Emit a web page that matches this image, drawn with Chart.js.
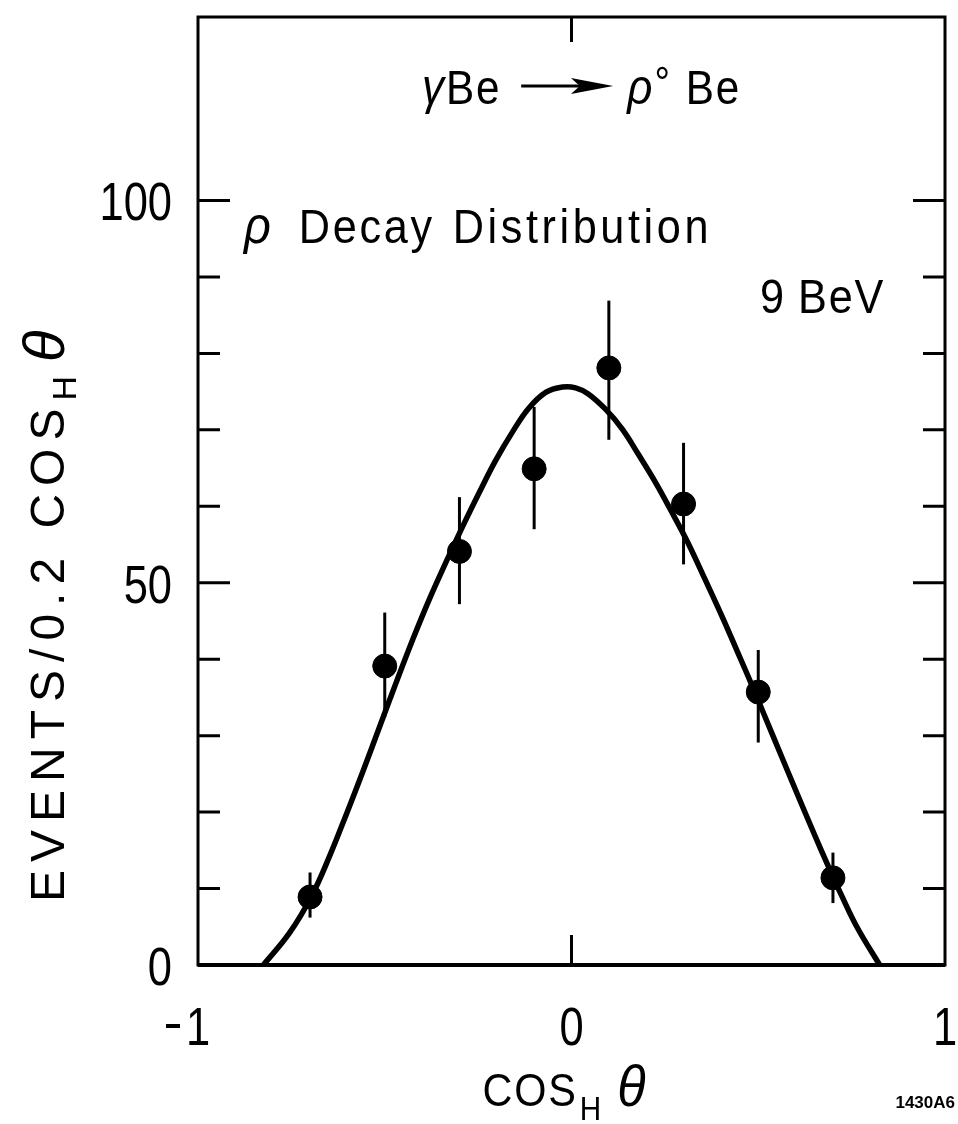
<!DOCTYPE html>
<html>
<head>
<meta charset="utf-8">
<script src="https://cdn.jsdelivr.net/npm/chart.js@4.4.1/dist/chart.umd.min.js"></script>
<style>
  html, body { margin: 0; padding: 0; background: #fff; }
</style>
</head>
<body>
<canvas id="decayChart" width="958" height="1124"></canvas>
<script>
// rho decay distribution, gamma Be -> rho Be at 9 BeV
const binCenters = [-0.7, -0.5, -0.3, -0.1, 0.1, 0.3, 0.5, 0.7];
const events     = [8.9, 39.1, 54.1, 64.9, 78.1, 60.3, 35.7, 11.4];
const errLow     = [6.2, 32.4, 47.2, 57.0, 68.7, 52.4, 29.1, 8.1];
const errHigh    = [12.1, 46.1, 61.2, 73.0, 86.9, 68.3, 41.2, 14.7];

// fitted curve
const fitX = [-0.825, -0.755, -0.696, -0.648, -0.603, -0.557, -0.515, -0.469, -0.424, -0.381,
              -0.336, -0.291, -0.248, -0.203, -0.157, -0.115, -0.069, -0.024, 0.011, 0.045,
              0.091, 0.136, 0.179, 0.224, 0.269, 0.312, 0.357, 0.403, 0.445, 0.483,
              0.517, 0.563, 0.605, 0.651, 0.685, 0.723, 0.765, 0.825];
const fitY = [0, 4.2, 9.0, 14.2, 19.7, 25.5, 31.0, 37.0, 42.7, 47.8,
              52.7, 57.4, 61.7, 66.0, 69.8, 72.8, 74.9, 75.6, 75.5, 74.7,
              72.7, 70.1, 66.8, 63.2, 59.2, 55.2, 50.5, 45.6, 40.9, 36.6,
              32.6, 27.2, 22.3, 17.0, 13.2, 9.1, 4.9, 0];

const yMajorTicks = [0, 50, 100];
const yTickLabels = ['0', '50', '100'];
const xTickLabels = ['-1', '0', '1'];

const FONT = "'Liberation Sans', Arial, sans-serif";

// draw a row of text pieces (subscripts, greek, arrow) left to right, squeezed by sx
function drawRuns(ctx, x, y, runs, align, sx) {
    sx = sx || 1;
    let total = 0;
    runs.forEach(r => {
        ctx.font = r.font || '';
        ctx.letterSpacing = r.spacing || '0px';
        r.w = r.arrow ? r.arrow / sx : (r.text ? ctx.measureText(r.text).width : 0);
        total += r.w + (r.gap || 0) / sx;
    });
    ctx.save();
    ctx.translate(align === 'center' ? x - total * sx / 2 : x, y);
    ctx.scale(sx, 1);
    let cx = 0;
    runs.forEach(r => {
        if (r.arrow) {
            const L = r.w, dy = r.dy;
            ctx.lineWidth = 3;
            ctx.beginPath();
            ctx.moveTo(cx, dy);
            ctx.lineTo(cx + L - 30, dy);
            ctx.stroke();
            ctx.beginPath();
            ctx.moveTo(cx + L, dy);
            ctx.lineTo(cx + L - 48, dy - 8);
            ctx.lineTo(cx + L - 38, dy);
            ctx.lineTo(cx + L - 48, dy + 8);
            ctx.closePath();
            ctx.fill();
        } else if (r.text) {
            ctx.font = r.font;
            ctx.letterSpacing = r.spacing || '0px';
            ctx.fillText(r.text, cx, r.dy || 0);
        }
        cx += r.w + (r.gap || 0) / sx;
    });
    ctx.restore();
    ctx.letterSpacing = '0px';
}

const framePlugin = {
    id: 'frame',
    beforeDatasetsDraw(chart) {
        const ctx = chart.ctx;
        const a = chart.chartArea;
        const xs = chart.scales.x, ys = chart.scales.y;
        ctx.save();
        ctx.strokeStyle = '#000';
        ctx.fillStyle = '#000';
        ctx.lineWidth = 3;
        ctx.strokeRect(a.left, a.top, a.right - a.left, a.bottom - a.top);
        ctx.lineWidth = 4;
        ctx.beginPath();
        ctx.moveTo(a.left, a.bottom);
        ctx.lineTo(a.right, a.bottom);
        ctx.stroke();

        // inward y ticks on both sides
        ctx.lineWidth = 3;
        ys.ticks.forEach(t => {
            if (t.value > 100 || t.value % 10 !== 0) return;
            const py = ys.getPixelForValue(t.value);
            const len = yMajorTicks.includes(t.value) ? 32 : 22;
            ctx.beginPath();
            ctx.moveTo(a.left, py); ctx.lineTo(a.left + len, py);
            ctx.moveTo(a.right, py); ctx.lineTo(a.right - len, py);
            ctx.stroke();
        });
        // inward x ticks top and bottom
        xs.ticks.forEach(t => {
            if (Math.abs(t.value) === 1) return;
            const px = xs.getPixelForValue(t.value);
            ctx.beginPath();
            ctx.moveTo(px, a.bottom); ctx.lineTo(px, a.bottom - 30);
            ctx.moveTo(px, a.top); ctx.lineTo(px, a.top + 25);
            ctx.stroke();
        });

        // error bars
        ctx.lineWidth = 3;
        binCenters.forEach((bx, i) => {
            const px = xs.getPixelForValue(bx);
            ctx.beginPath();
            ctx.moveTo(px, ys.getPixelForValue(errLow[i]));
            ctx.lineTo(px, ys.getPixelForValue(errHigh[i]));
            ctx.stroke();
        });
        ctx.restore();
    },
    afterDraw(chart) {
        const ctx = chart.ctx;
        const a = chart.chartArea;
        const xs = chart.scales.x, ys = chart.scales.y;
        ctx.save();
        ctx.fillStyle = '#000';
        ctx.strokeStyle = '#000';
        const digitFont = '53px ' + FONT;

        // y tick labels, right aligned
        ctx.textBaseline = 'alphabetic';
        ctx.textAlign = 'left';
        yMajorTicks.forEach((v, i) => {
            ctx.font = digitFont;
            const w = ctx.measureText(yTickLabels[i]).width * 0.82;
            drawRuns(ctx, a.left - 26 - w, ys.getPixelForValue(v) + 20,
                [{ text: yTickLabels[i], font: digitFont }], 'left', 0.82);
        });

        // x tick labels
        xs.ticks.forEach(t => {
            const idx = t.value + 1;
            const px = xs.getPixelForValue(t.value);
            const lab = xTickLabels[idx];
            if (lab.startsWith('-')) {
                drawRuns(ctx, px, 1045, [{ text: lab.slice(1), font: digitFont }], 'center', 0.82);
                ctx.fillRect(px - 32, 1024, 14, 4);
            } else {
                drawRuns(ctx, px, 1045, [{ text: lab, font: digitFont }], 'center', 0.82);
            }
        });

        // x axis title
        drawRuns(ctx, xs.getPixelForValue(-0.02), 1106, [
            { text: 'COS', font: '46px ' + FONT, spacing: '2px', gap: 2 },
            { text: 'H', font: '33px ' + FONT, dy: 14, gap: 16 },
            { text: 'θ', font: 'italic 58px ' + FONT }
        ], 'center', 0.9);

        // y axis title, rotated, reading upward from the bottom
        ctx.save();
        ctx.translate(64, 902);
        ctx.rotate(-Math.PI / 2);
        drawRuns(ctx, 0, 0, [
            { text: 'EVENTS/0.2 COS', font: '48px ' + FONT, spacing: '8px', gap: 0 },
            { text: 'H', font: '34px ' + FONT, dy: 12, gap: 14 },
            { text: 'θ', font: 'italic 58px ' + FONT }
        ], 'left', 1);
        ctx.restore();

        // reaction label
        drawRuns(ctx, 422, 104, [
            { text: 'γ', font: 'italic 50px ' + FONT, gap: 2 },
            { text: 'Be', font: '48px ' + FONT, spacing: '2px', gap: 20 },
            { arrow: 92, dy: -18, gap: 14 },
            { text: 'ρ', font: 'italic 50px ' + FONT, gap: 2 },
            { text: '°', font: '44px ' + FONT, dy: -6, gap: 16 },
            { text: 'Be', font: '48px ' + FONT, spacing: '2px' }
        ], 'left', 0.88);

        drawRuns(ctx, 244, 243, [
            { text: 'ρ', font: 'italic 52px ' + FONT, gap: 28 },
            { text: 'Decay', font: '48px ' + FONT, spacing: '3px', gap: 18 },
            { text: 'Distribution', font: '48px ' + FONT, spacing: '4px' }
        ], 'left', 0.9);

        drawRuns(ctx, 760, 313, [
            { text: '9', font: '48px ' + FONT, gap: 14 },
            { text: 'BeV', font: '48px ' + FONT, spacing: '2px' }
        ], 'left', 0.9);

        // figure number
        ctx.font = 'bold 17px ' + FONT;
        ctx.textAlign = 'right';
        ctx.fillText('1430A6', 955, 1108);
        ctx.restore();
    }
};

const fitPoints = fitX.map((x, i) => ({ x: x, y: fitY[i] }));
const dataPoints = binCenters.map((x, i) => ({ x: x, y: events[i] }));

const config = {
    type: 'scatter',
    data: {
        datasets: [
            {
                label: 'fit',
                data: fitPoints,
                showLine: true,
                borderColor: '#000',
                borderWidth: 5.5,
                pointRadius: 0,
                tension: 0.4
            },
            {
                label: 'events',
                data: dataPoints,
                backgroundColor: '#000',
                borderColor: '#000',
                pointRadius: 12,
                pointHoverRadius: 12
            }
        ]
    },
    options: {
        responsive: false,
        devicePixelRatio: 1,
        animation: false,
        layout: { padding: { left: 198, right: 8, top: 17, bottom: 159 } },
        plugins: {
            legend: { display: false },
            tooltip: { enabled: false }
        },
        scales: {
            x: { type: 'linear', min: -1, max: 1, display: false, ticks: { stepSize: 1 } },
            y: { type: 'linear', min: 0, max: 124, display: false, ticks: { stepSize: 10 } }
        }
    },
    plugins: [framePlugin]
};

const ctx = document.getElementById('decayChart').getContext('2d');
const decayChart = new Chart(ctx, config);
</script>
</body>
</html>
